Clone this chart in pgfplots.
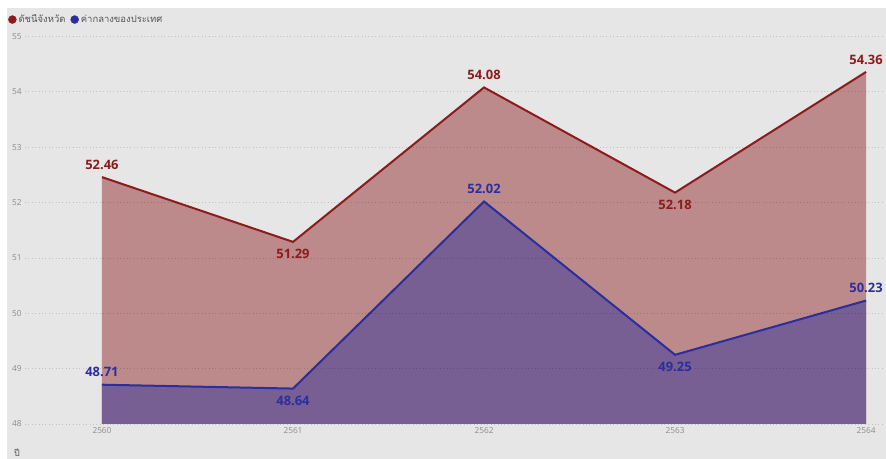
\documentclass[border=0pt]{standalone}
\usepackage{fontspec}
\setmainfont{Open Sans}
\newfontfamily\thaifont[Script=Thai]{Loma}
\usepackage{pgfplots}
\usepackage{pgfplotstable}
\pgfplotsset{compat=1.18}

\definecolor{bgc}{HTML}{E6E6E6}
\definecolor{redline}{HTML}{8E1B1B}
\definecolor{redfill}{HTML}{BC8A8B}
\definecolor{bluline}{HTML}{2A2E9E}
\definecolor{purfill}{HTML}{775E93}
\definecolor{tickc}{HTML}{8C8C8C}
\definecolor{legc}{HTML}{555555}

% year, value, label side (1 above, -1 below)
\pgfplotstableread{
x    y     pos
2560 52.46  1
2561 51.29 -1
2562 54.08  1
2563 52.18 -1
2564 54.36  1
}\provtable

\pgfplotstableread{
x    y     pos
2560 48.71  1
2561 48.64 -1
2562 52.02  1
2563 49.25 -1
2564 50.23  1
}\natable

\begin{document}
\begin{tikzpicture}
\useasboundingbox (0bp,0bp) rectangle (886bp,459bp);
\fill[white] (0bp,0bp) rectangle (886bp,459bp);
\fill[bgc] (7bp,0bp) rectangle (886bp,451bp);

\begin{axis}[
  at={(25bp,35bp)}, anchor=south west,
  scale only axis,
  width=859bp, height=387.5bp,
  xmin=2559.597, xmax=2564.094,
  ymin=48, ymax=55,
  xtick={2560,2561,2562,2563,2564},
  xticklabels={2560,2561,2562,2563,2564},
  ytick={48,49,...,55},
  yticklabels={48,49,50,51,52,53,54,55},
  axis on top,
  axis line style={draw=none},
  tick style={draw=none},
  ymajorgrids=true,
  grid style={black, opacity=0.16, dash pattern=on 0.8bp off 2.6bp, line width=0.8bp},
  ticklabel style={font=\fontsize{8.3}{9}\selectfont, text=tickc},
  /pgf/number format/assume math mode=true,
  /pgf/number format/fixed,
  /pgf/number format/fixed zerofill,
  /pgf/number format/precision=2,
  every node near coord/.append style={font=\fontsize{13}{15}\bfseries\selectfont, anchor=center},
  legend style={draw=none, fill=none, at={(axis description cs:0,1)}, anchor=south west,
    xshift=-17bp, yshift=10bp, legend columns=2, inner sep=0pt,
    font=\thaifont\fontsize{9.5}{10}\selectfont, text=legc,
    /tikz/every even column/.append style={column sep=3bp}},
  legend cell align=left,
]

\addplot[draw=none, fill=redfill, forget plot] table[x=x, y=y]{\provtable} \closedcycle;
\addplot[draw=none, fill=purfill, forget plot] table[x=x, y=y]{\natable} \closedcycle;

\addplot[redline, line width=2bp, forget plot,
  nodes near coords, point meta=y,
  visualization depends on={\thisrow{pos} \as \pos},
  nodes near coords style={text=redline, yshift={\pos*12.5bp}}]
  table[x=x, y=y]{\provtable};

\addplot[bluline, line width=2bp, forget plot,
  nodes near coords, point meta=y,
  visualization depends on={\thisrow{pos} \as \pos},
  nodes near coords style={text=bluline, yshift={\pos*12.5bp}}]
  table[x=x, y=y]{\natable};

\addlegendimage{color=redline, legend image code/.code={\fill (0bp,0bp) circle (4bp);}}
\addlegendentry{ดัชนีจังหวัด}
\addlegendimage{color=bluline, legend image code/.code={\fill (0bp,0bp) circle (4bp);}}
\addlegendentry{ค่ากลางของประเทศ}
\end{axis}

\node[anchor=south west, inner sep=0pt, text=legc, font=\thaifont\fontsize{9}{10}\selectfont] at (14bp,2bp) {ปี};
\end{tikzpicture}
\end{document}
